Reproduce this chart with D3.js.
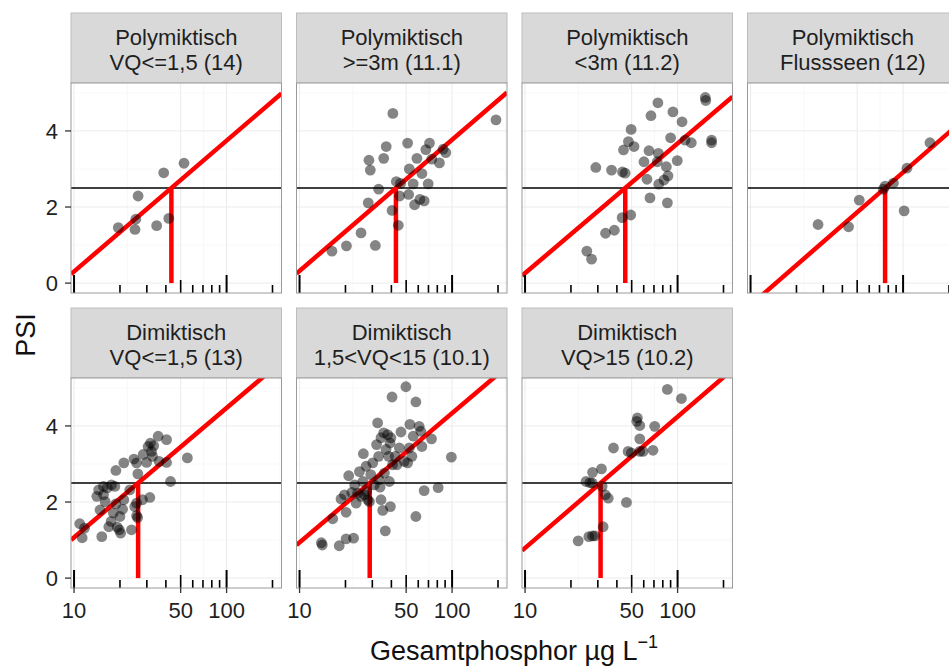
<!DOCTYPE html>
<html><head><meta charset="utf-8">
<script src="https://cdn.jsdelivr.net/npm/d3@7"></script>
<style>body{margin:0;background:#fff}svg{display:block}text{font-family:"Liberation Sans",Arial,Helvetica,sans-serif}</style>
</head><body><svg id="c" width="949" height="666"></svg>
<script>
// ---- data ----
const stripLine1 = ["Polymiktisch","Polymiktisch","Polymiktisch","Polymiktisch","Dimiktisch","Dimiktisch","Dimiktisch"];
const stripLine2 = ["VQ<=1,5 (14)",">=3m (11.1)","<3m (11.2)","Flussseen (12)","VQ<=1,5 (13)","1,5<VQ<15 (10.1)","VQ>15 (10.2)"];
const intercepts = [-3.135, -3.130, -3.150, -4.068, -2.328, -2.464, -2.658];
const slopes = [3.44, 3.45, 3.41, 3.49, 3.40, 3.40, 3.45];
const psiThreshold = 2.5;

const tpP1 = [19.5, 25.1, 25.4, 26.3, 34.8, 38.7, 41.8, 52.6];
const psiP1 = [1.46, 1.41, 1.68, 2.29, 1.51, 2.90, 1.70, 3.15];
const tpP2 = [16.3, 20.3, 25.3, 31.4, 40.9, 37.0, 28.5, 35.6, 29.1, 33.0, 28.2, 40.4, 44.4, 43.1, 45.9, 45.3, 51.1, 52.4, 55.6, 51.9, 56.8, 58.8, 63.4, 61.5, 65.6, 69.7, 67.3, 71.1, 73.6, 82.6, 87.3, 90.9, 194];
const psiP2 = [0.84, 0.98, 1.32, 0.99, 4.46, 3.59, 3.23, 3.28, 2.97, 2.47, 2.11, 1.91, 1.52, 2.67, 2.62, 2.29, 3.68, 3.00, 2.61, 2.33, 2.06, 3.28, 2.88, 2.20, 2.16, 2.61, 3.51, 3.68, 3.26, 3.16, 3.52, 3.43, 4.29];
const tpP3 = [25.4, 27.3, 33.7, 38.5, 43.3, 49.3, 29.1, 36.9, 43.5, 45.3, 44.2, 47.6, 49.6, 51.8, 63.0, 60.2, 64.9, 66.9, 65.9, 74.3, 73.6, 74.8, 75.2, 81.5, 84.4, 86.5, 85.7, 90.0, 93.2, 99.5, 107, 112, 123, 152, 153, 167, 167];
const psiP3 = [0.84, 0.63, 1.31, 1.39, 1.72, 1.79, 3.04, 2.97, 2.92, 2.89, 3.50, 3.72, 4.04, 3.59, 2.73, 3.19, 3.48, 4.40, 2.24, 4.74, 3.19, 3.41, 2.60, 2.71, 3.06, 2.82, 2.11, 3.82, 4.50, 3.22, 4.24, 3.76, 3.69, 4.88, 4.80, 3.76, 3.69];
const tpP4 = [27.7, 43.9, 51.6, 74.3, 76.2, 86.4, 101.6, 106, 150];
const psiP4 = [1.54, 1.48, 2.18, 2.47, 2.55, 2.63, 1.90, 3.02, 3.69];
const tpP5 = [10.9, 11.3, 11.7, 15.2, 14.1, 14.5, 15.6, 14.8, 15.6, 16.5, 16.0, 17.6, 18.5, 16.9, 17.5, 18.1, 18.8, 18.8, 19.2, 19.8, 20.2, 20.0, 20.8, 21.2, 21.2, 23.8, 23.2, 24.7, 25.0, 25.7, 26.1, 25.7, 26.2, 25.7, 28.1, 28.4, 29.9, 31.4, 30.6, 31.7, 32.2, 32.7, 33.3, 35.6, 36.1, 40.4, 40.4, 42.9, 55.3];
const psiP5 = [1.43, 1.06, 1.31, 1.09, 2.15, 2.32, 2.41, 1.79, 2.19, 2.37, 2.01, 2.45, 2.41, 1.35, 1.49, 1.71, 1.95, 2.83, 1.34, 1.27, 1.18, 1.62, 1.81, 3.03, 2.06, 1.27, 2.32, 3.13, 1.88, 1.64, 1.59, 3.03, 2.74, 1.97, 2.06, 3.25, 3.04, 2.12, 3.46, 3.55, 3.33, 3.20, 3.48, 3.73, 3.07, 3.64, 3.04, 2.54, 3.16];
const tpP6 = [13.9, 14.1, 18.2, 20.2, 22.6, 16.5, 20.2, 18.7, 19.7, 22.0, 23.5, 21.0, 24.7, 26.2, 23.0, 26.0, 27.3, 27.5, 28.0, 28.7, 29.3, 30.2, 30.9, 32.0, 32.5, 33.0, 33.3, 33.7, 34.2, 35.1, 35.6, 36.5, 36.0, 36.9, 37.8, 38.4, 38.8, 39.4, 39.7, 40.4, 40.7, 42.4, 43.5, 45.1, 46.2, 48.6, 49.8, 51.1, 52.4, 52.9, 54.5, 55.6, 57.9, 57.9, 60.8, 62.4, 63.4, 65.6, 73.3, 81.0, 98.9, 25.3, 26.6, 24.0, 34.2, 39.2];
const psiP6 = [0.93, 0.87, 0.85, 1.03, 1.05, 1.56, 1.73, 2.08, 2.19, 2.25, 1.97, 2.69, 2.80, 3.27, 2.45, 2.54, 2.94, 2.28, 2.06, 2.01, 2.72, 3.03, 2.45, 3.51, 4.08, 3.20, 2.59, 2.39, 3.69, 1.78, 3.82, 1.24, 2.76, 3.38, 3.77, 3.20, 2.54, 1.88, 3.69, 4.76, 2.98, 3.20, 2.98, 3.42, 3.84, 3.07, 5.03, 3.03, 3.42, 4.04, 3.20, 3.73, 4.63, 1.62, 3.99, 3.86, 3.46, 2.30, 3.66, 2.38, 3.18, 2.15, 2.19, 2.23, 2.06, 3.55];
const tpP7 = [22.3, 26.2, 27.7, 28.7, 32.5, 25.1, 26.6, 27.6, 27.7, 31.7, 32.0, 33.6, 35.1, 38.0, 46.2, 47.4, 49.8, 54.5, 54.0, 56.5, 56.5, 56.5, 59.3, 69.0, 70.8, 85.7, 106];
const psiP7 = [0.98, 1.09, 1.11, 1.11, 1.35, 2.54, 2.51, 2.50, 2.78, 2.87, 2.41, 2.19, 2.10, 3.42, 1.99, 3.33, 3.29, 4.21, 4.12, 4.01, 3.66, 3.33, 3.33, 3.36, 3.99, 4.96, 4.72];

const tpSeries = [tpP1, tpP2, tpP3, tpP4, tpP5, tpP6, tpP7];
const psiSeries = [psiP1, psiP2, psiP3, psiP4, psiP5, psiP6, psiP7];

const xTickValues = [10, 50, 100];
const xTickLabels = ["10", "50", "100"];
const yTickValues = [0, 2, 4];
const yTickLabels = ["0", "2", "4"];
const logTickValues = [10, 20, 30, 40, 50, 60, 70, 80, 90, 100, 200];
const xTitle = "Gesamtphosphor µg L";
const xTitleSup = "−1";
const yTitle = "PSI";

// ---- layout ----
const svg = d3.select("#c");
svg.append("rect").attr("width", 949).attr("height", 666).attr("fill", "#fff");
const panelW = 210.5, colStep = 225.5, left0 = 71;
const stripTop0 = 13, stripH = 70, plotH = 210, rowStep = 295;
const xDomain = [Math.pow(10, 0.98), Math.pow(10, 2.36)];
const yDomain = [-0.26, 5.26];
const textCol = "#1f1f1f";

const defs = svg.append("defs");

tpSeries.forEach((tp, i) => {
  const col = i % 4, row = Math.floor(i / 4);
  const x0 = left0 + col * colStep;
  const sTop = stripTop0 + row * rowStep;
  const pTop = sTop + stripH;
  const x = d3.scaleLog().domain(xDomain).range([x0, x0 + panelW]);
  const y = d3.scaleLinear().domain(yDomain).range([pTop + plotH, pTop]);
  const g = svg.append("g");

  // strip
  g.append("rect").attr("x", x0).attr("y", sTop).attr("width", panelW).attr("height", stripH)
    .attr("fill", "#d9d9d9").attr("stroke", "#bdbdbd").attr("stroke-width", 1);
  const st = g.append("text").attr("text-anchor", "middle").attr("font-size", 22).attr("fill", textCol);
  st.append("tspan").attr("x", x0 + panelW / 2).attr("y", sTop + 32).text(stripLine1[i]);
  st.append("tspan").attr("x", x0 + panelW / 2).attr("y", sTop + 57).text(stripLine2[i]);

  // panel background + grid
  g.append("rect").attr("x", x0).attr("y", pTop).attr("width", panelW).attr("height", plotH).attr("fill", "#fff");
  const minorY = [1, 3, 5], minorX = [22.36, 70.71, 223.6];
  g.selectAll(".gmy").data(minorY).enter().append("line")
    .attr("x1", x0).attr("x2", x0 + panelW).attr("y1", d => y(d)).attr("y2", d => y(d))
    .attr("stroke", "#f4f4f4").attr("stroke-width", 0.6);
  g.selectAll(".gmx").data(minorX).enter().append("line")
    .attr("y1", pTop).attr("y2", pTop + plotH).attr("x1", d => x(d)).attr("x2", d => x(d))
    .attr("stroke", "#f4f4f4").attr("stroke-width", 0.6);
  g.selectAll(".gy").data(yTickValues).enter().append("line")
    .attr("x1", x0).attr("x2", x0 + panelW).attr("y1", d => y(d)).attr("y2", d => y(d))
    .attr("stroke", "#ebebeb").attr("stroke-width", 1);
  g.selectAll(".gx").data(xTickValues).enter().append("line")
    .attr("y1", pTop).attr("y2", pTop + plotH).attr("x1", d => x(d)).attr("x2", d => x(d))
    .attr("stroke", "#ebebeb").attr("stroke-width", 1);

  // clip
  const cid = "clip" + i;
  defs.append("clipPath").attr("id", cid).append("rect")
    .attr("x", x0).attr("y", pTop).attr("width", panelW).attr("height", plotH);
  const pg = g.append("g").attr("clip-path", `url(#${cid})`);

  // horizontal threshold
  pg.append("line").attr("x1", x0).attr("x2", x0 + panelW)
    .attr("y1", y(psiThreshold)).attr("y2", y(psiThreshold))
    .attr("stroke", "#000").attr("stroke-width", 1.5);

  // regression line
  const a = intercepts[i], b = slopes[i];
  const fx = v => a + b * Math.log10(v);
  const line = d3.line().x(d => x(d)).y(d => y(fx(d)));
  pg.append("path").datum(xDomain).attr("d", line)
    .attr("fill", "none").attr("stroke", "#ff0000").attr("stroke-width", 4.5);

  // vertical at threshold
  const tpCrit = Math.pow(10, (psiThreshold - a) / b);
  pg.append("line").attr("x1", x(tpCrit)).attr("x2", x(tpCrit))
    .attr("y1", y(0)).attr("y2", y(psiThreshold))
    .attr("stroke", "#ff0000").attr("stroke-width", 4.5);

  // log ticks
  pg.selectAll(".lt").data(logTickValues).enter().append("line")
    .attr("x1", d => x(d)).attr("x2", d => x(d))
    .attr("y1", pTop + plotH)
    .attr("y2", d => {
      const m = Math.round(d / Math.pow(10, Math.floor(Math.log10(d) + 1e-9)));
      const len = m === 1 ? 18 : (m === 5 ? 13 : 8);
      return pTop + plotH - len;
    })
    .attr("stroke", "#000").attr("stroke-width", d => (d === 10 || d === 100) ? 2 : 1.6);

  // points
  const psi = psiSeries[i];
  pg.selectAll(".pt").data(tp).enter().append("circle")
    .attr("cx", d => x(d)).attr("cy", (d, j) => y(psi[j])).attr("r", 5.4)
    .attr("fill", "#000").attr("fill-opacity", 0.48);

  // border
  g.append("rect").attr("x", x0).attr("y", pTop).attr("width", panelW).attr("height", plotH)
    .attr("fill", "none").attr("stroke", "#9a9a9a").attr("stroke-width", 1);

  // y axis
  if (col === 0) {
    const ya = g.append("g");
    ya.selectAll("line").data(yTickValues).enter().append("line")
      .attr("x1", x0 - 6).attr("x2", x0).attr("y1", d => y(d)).attr("y2", d => y(d))
      .attr("stroke", "#333").attr("stroke-width", 1.3);
    ya.selectAll("text").data(yTickValues).enter().append("text")
      .attr("x", x0 - 13).attr("y", d => y(d)).attr("dy", "0.36em")
      .attr("text-anchor", "end").attr("font-size", 22).attr("fill", textCol)
      .text((d, k) => yTickLabels[k]);
  }
  // x axis (bottom row)
  if (row === 1) {
    const xa = g.append("g");
    xa.selectAll("line").data(xTickValues).enter().append("line")
      .attr("x1", d => x(d)).attr("x2", d => x(d)).attr("y1", pTop + plotH).attr("y2", pTop + plotH + 5)
      .attr("stroke", "#333").attr("stroke-width", 1.3);
    xa.selectAll("text").data(xTickValues).enter().append("text")
      .attr("x", d => x(d)).attr("y", pTop + plotH + 30)
      .attr("text-anchor", "middle").attr("font-size", 22).attr("fill", textCol)
      .text((d, k) => xTickLabels[k]);
  }
});

// titles
const xt = svg.append("text").attr("x", 514).attr("y", 660).attr("text-anchor", "middle")
  .attr("font-size", 27).attr("fill", "#111");
xt.append("tspan").text(xTitle);
xt.append("tspan").attr("font-size", 18).attr("dy", -12).text(xTitleSup);

svg.append("text").attr("transform", "translate(35,335) rotate(-90)")
  .attr("text-anchor", "middle").attr("font-size", 27).attr("fill", "#111").text(yTitle);
</script></body></html>
